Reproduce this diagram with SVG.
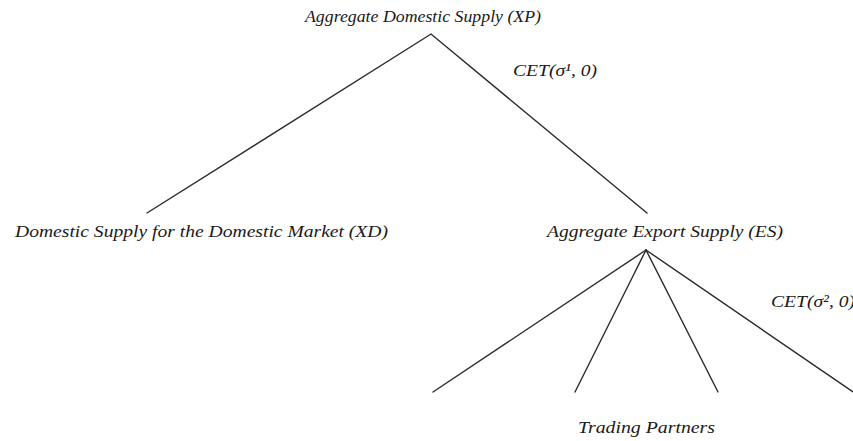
<svg xmlns="http://www.w3.org/2000/svg" width="853" height="441" viewBox="0 0 853 441">
  <style>
    .lbl { font-family: "Liberation Serif", "Times New Roman", serif; font-style: italic; font-size: 17px; fill: #1a1a1a; }
    .edge { stroke: #2a2a2a; stroke-width: 1.4; fill: none; stroke-linecap: round; }
  </style>
  <rect width="853" height="441" fill="#ffffff"/>
  <g id="connectors">
    <polyline class="edge" points="147,213 431,34 647,213"/>
    <line class="edge" x1="646" y1="250" x2="433" y2="392"/>
    <line class="edge" x1="646" y1="250" x2="575" y2="392"/>
    <line class="edge" x1="646" y1="250" x2="718" y2="392"/>
    <line class="edge" x1="646" y1="250" x2="856" y2="394"/>
  </g>
  <g id="node-xp">
    <text class="lbl" x="305" y="22" textLength="236" lengthAdjust="spacingAndGlyphs">Aggregate Domestic Supply (XP)</text>
  </g>
  <g id="label-cet1">
    <text class="lbl" x="513" y="76" textLength="84" lengthAdjust="spacingAndGlyphs">CET(σ¹, 0)</text>
  </g>
  <g id="node-xd">
    <text class="lbl" x="15" y="237" textLength="373" lengthAdjust="spacingAndGlyphs">Domestic Supply for the Domestic Market (XD)</text>
  </g>
  <g id="node-es">
    <text class="lbl" x="547" y="237" textLength="236" lengthAdjust="spacingAndGlyphs">Aggregate Export Supply (ES)</text>
  </g>
  <g id="label-cet2">
    <text class="lbl" x="771" y="307" textLength="84" lengthAdjust="spacingAndGlyphs">CET(σ², 0)</text>
  </g>
  <g id="node-tp">
    <text class="lbl" x="578" y="433" textLength="137" lengthAdjust="spacingAndGlyphs">Trading Partners</text>
  </g>
</svg>
